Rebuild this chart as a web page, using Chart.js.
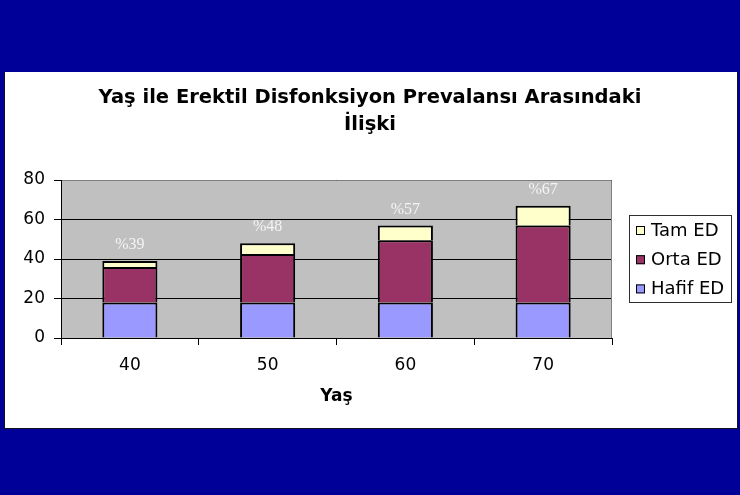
<!DOCTYPE html>
<html><head><meta charset="utf-8">
<script src="https://cdn.jsdelivr.net/npm/chart.js@4"></script>
<style>html,body{margin:0;padding:0;background:#000099;overflow:hidden}#wrap{width:740px;height:495px;position:relative}</style>
</head><body><div id="wrap"><canvas id="c" width="740" height="495"></canvas></div>
<script>
const categories = ['40', '50', '60', '70'];
const hafifED = [18, 18, 18, 18];
const ortaED = [18, 24.5, 31.5, 39];
const tamED = [3, 5.5, 7.5, 10];
const percentLabels = ['%39', '%48', '%57', '%67'];
const seriesNames = ['Hafif ED', 'Orta ED', 'Tam ED'];
const titleLines = ['Yaş ile Erektil Disfonksiyon Prevalansı Arasındaki', 'İlişki'];
const xAxisTitle = 'Yaş';

const bgPlugin = {
  id: 'bg',
  beforeDraw(chart) {
    const ctx = chart.ctx, a = chart.chartArea;
    ctx.save();
    ctx.fillStyle = '#000099';
    ctx.fillRect(0, 0, chart.width, chart.height);
    ctx.fillStyle = '#101020';
    ctx.fillRect(4, 72, 734, 357);
    ctx.fillStyle = '#ffffff';
    ctx.fillRect(5, 72, 732, 356);
    ctx.fillStyle = '#c0c0c0';
    ctx.fillRect(a.left, a.top, a.right - a.left, a.bottom - a.top);
    ctx.restore();
  },
  beforeDatasetsDraw(chart) {
    const ctx = chart.ctx, a = chart.chartArea;
    ctx.save();
    ctx.strokeStyle = '#808080';
    ctx.lineWidth = 1;
    ctx.beginPath();
    ctx.moveTo(a.left + 1, a.top + 0.5);
    ctx.lineTo(a.right - 0.5, a.top + 0.5);
    ctx.lineTo(a.right - 0.5, a.bottom);
    ctx.stroke();
    ctx.restore();
  },
  afterDatasetsDraw(chart) {
    const ctx = chart.ctx;
    const xs = chart.scales.x, ys = chart.scales.y;
    ctx.save();
    ctx.fillStyle = '#f4f4f4';
    ctx.font = '16px "Liberation Serif", "Times New Roman", serif';
    ctx.textAlign = 'center';
    ctx.textBaseline = 'middle';
    categories.forEach((c, i) => {
      let total = 0;
      chart.data.datasets.forEach(d => total += d.data[i]);
      ctx.fillText(percentLabels[i], xs.getPixelForValue(i), ys.getPixelForValue(total) - 16);
    });
    ctx.restore();
  },
  afterDraw(chart) {
    const ctx = chart.ctx;
    ctx.save();
    const bx = 629.5, by = 215.5, bw = 102, bh = 87;
    ctx.fillStyle = '#ffffff';
    ctx.fillRect(bx, by, bw, bh);
    ctx.strokeStyle = '#303030';
    ctx.lineWidth = 1;
    ctx.strokeRect(bx, by, bw, bh);
    ctx.font = '18px "DejaVu Sans", sans-serif';
    ctx.textBaseline = 'middle';
    ctx.textAlign = 'left';
    const ds = chart.data.datasets.slice().reverse();
    ds.forEach((d, k) => {
      const cy = 230 + k * 29.2;
      ctx.fillStyle = d.backgroundColor;
      ctx.fillRect(636, cy - 4, 9, 9);
      ctx.strokeStyle = '#000';
      ctx.strokeRect(636.5, cy - 3.5, 8, 8);
      ctx.fillStyle = '#000';
      ctx.fillText(d.label, 651, cy + 1);
    });
    ctx.restore();
  }
};

new Chart(document.getElementById('c'), {
  type: 'bar',
  data: {
    labels: categories,
    datasets: [
      { label: seriesNames[0], data: hafifED, backgroundColor: '#9999ff' },
      { label: seriesNames[1], data: ortaED, backgroundColor: '#993366' },
      { label: seriesNames[2], data: tamED, backgroundColor: '#ffffcc' }
    ]
  },
  options: {
    responsive: false,
    animation: false,
    devicePixelRatio: 1,
    layout: { padding: { left: 0, right: 0, top: 0, bottom: 0 } },
    datasets: { bar: { categoryPercentage: 1, barPercentage: 0.4, borderColor: '#000', borderWidth: { top: 2, right: 2, bottom: 0, left: 2 }, borderSkipped: false } },
    plugins: {
      legend: { display: false },
      tooltip: { enabled: false },
      title: {
        display: true,
        text: titleLines,
        color: '#000',
        font: { family: '"DejaVu Sans", sans-serif', size: 19.5, weight: 'bold', lineHeight: '27px' },
        padding: { top: 84, bottom: 42 }
      }
    },
    scales: {
      x: {
        stacked: true,
        grid: { offset: true, drawOnChartArea: false, drawTicks: true, tickLength: 7, color: '#000' },
        border: { display: true, color: '#000', width: 1 },
        ticks: { color: '#000', padding: 10, font: { family: '"DejaVu Sans", sans-serif', size: 17 } },
        title: { display: true, text: xAxisTitle, color: '#000', padding: { top: 12, bottom: 88 }, font: { family: '"DejaVu Sans", sans-serif', size: 17, weight: 'bold' } },
        afterFit(s) { s.height = 157; }
      },
      y: {
        stacked: true,
        min: 0, max: 80,
        ticks: { stepSize: 20, color: '#000', padding: 9, font: { family: '"DejaVu Sans", sans-serif', size: 17 } },
        grid: { color: '#000', tickLength: 7, lineWidth: 1 },
        border: { display: true, color: '#000', width: 1 },
        afterFit(s) { s.width = 61; }
      },
      yRight: {
        display: true,
        position: 'right',
        min: 0, max: 80,
        ticks: { display: false },
        grid: { display: false, drawOnChartArea: false },
        border: { display: false },
        afterFit(s) { s.width = 128; }
      }
    }
  },
  plugins: [bgPlugin]
});
</script></body></html>
